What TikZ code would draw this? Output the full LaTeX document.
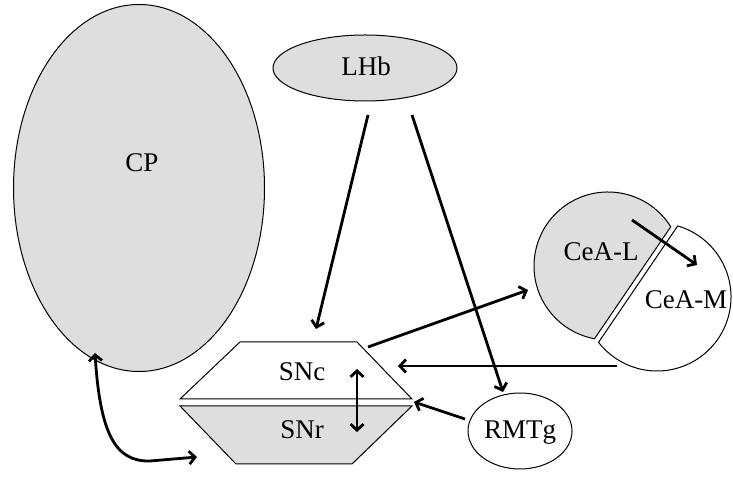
\documentclass[tikz,border=0pt]{standalone}
\usepackage{fontspec}
\setmainfont{Liberation Serif}
\usetikzlibrary{shapes.geometric,arrows.meta}
\definecolor{regiongray}{RGB}{222,222,222}
\tikzset{
  region/.style={draw=black, line width=1pt, fill=regiongray},
  whiteregion/.style={draw=black, line width=1pt, fill=white},
  lbl/.style={font=\fontsize{27}{32}\selectfont, inner sep=0pt},
  conn/.style={line width=2.8pt, -{Straight Barb[length=6pt,width=13pt]}},
  dconn/.style={line width=2.8pt, {Straight Barb[length=6pt,width=13pt]}-{Straight Barb[length=6pt,width=13pt]}}
}
\begin{document}
\begin{tikzpicture}[x=1pt,y=1pt]
\useasboundingbox (0,0) rectangle (733,481);
% CP
\node[region, ellipse, minimum width=251pt, minimum height=367pt] (cp) at (139,293) {};
\node[lbl] (cpl) at (142,318) {CP};
% LHb
\node[region, ellipse, minimum width=184pt, minimum height=66pt] (lhb) at (365,413) {};
\node[lbl] (lhbl) at (366,415) {LHb};
% RMTg
\node[whiteregion, ellipse, minimum width=104pt, minimum height=76pt] (rmtg) at (520,50) {};
\node[lbl] (rmtgl) at (520,48) {RMTg};
% SNc / SNr
\draw[whiteregion] (240,139) -- (357,139) -- (412,82) -- (180,82) -- cycle;
\draw[region] (180,75) -- (412,75) -- (352,17) -- (236,17) -- cycle;
\node[lbl] (snc) at (302,109) {SNc};
\node[lbl] (snr) at (302,51) {SNr};
% CeA-L / CeA-M
\draw[region] (608,215) ++(32:74) arc[start angle=32, end angle=259.5, radius=74] -- cycle;
\draw[whiteregion] (657,184) ++(73.8:74) arc[start angle=73.8, end angle=-142.2, radius=74] -- cycle;
\node[lbl] (ceal) at (601,229) {CeA-L};
\node[lbl] (ceam) at (686,181) {CeA-M};
% connector end points
\coordinate (lhbA) at (368,366);
\coordinate (sncT) at (316,152);
\coordinate (lhbB) at (412,366);
\coordinate (rmtgT) at (503,89);
\coordinate (sncR) at (368,134);
\coordinate (cealW) at (528,191);
\coordinate (cealC) at (632,261);
\coordinate (ceamC) at (697,216);
\coordinate (ceamW) at (617,115);
\coordinate (sncE) at (398,115);
\coordinate (rmtgW) at (465,62);
\coordinate (snJ) at (414,79);
\coordinate (sncIn) at (357,112);
\coordinate (snrIn) at (357,49);
\coordinate (cpB) at (95,128);
\coordinate (snrW) at (197,24);
% connectors
\draw[conn] (lhbA) -- (sncT);
\draw[conn] (lhbB) -- (rmtgT);
\draw[conn] (sncR) -- (cealW);
\draw[conn] (cealC) -- (ceamC);
\draw[conn] (ceamW) -- (sncE);
\draw[conn] (rmtgW) -- (snJ);
\draw[dconn] (sncIn) -- (snrIn);
\draw[dconn] (cpB) .. controls (100,48) and (115,19) .. (150,20) -- (snrW);
\end{tikzpicture}
\end{document}
